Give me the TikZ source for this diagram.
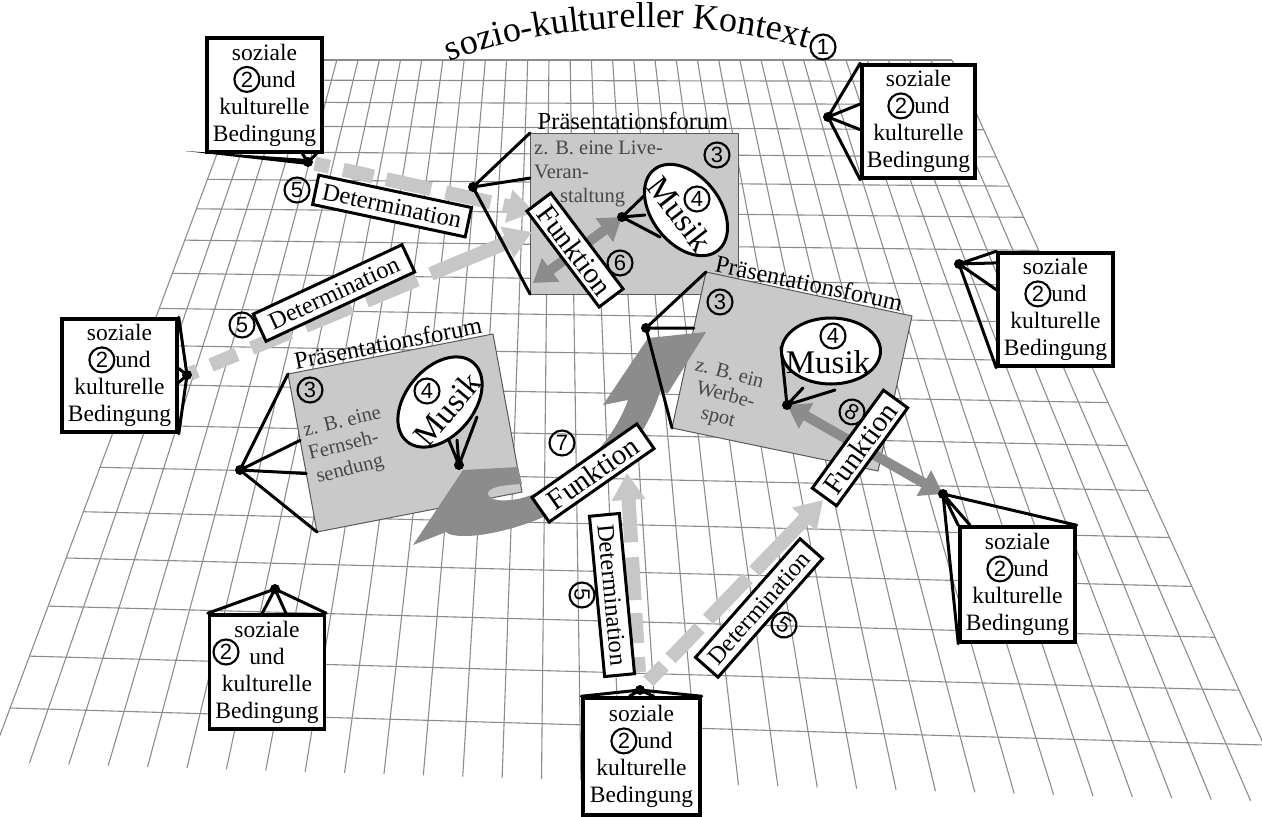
\documentclass[tikz,border=0pt]{standalone}
\usepackage{fontspec}
\setmainfont{Liberation Serif}
\setsansfont{Liberation Sans}
\usetikzlibrary{shapes.geometric,arrows.meta,decorations.text,calc}
\definecolor{gridc}{gray}{0.55}
\definecolor{forumc}{gray}{0.79}
\definecolor{forumedge}{gray}{0.35}
\definecolor{darkarr}{gray}{0.55}
\definecolor{lightarr}{gray}{0.78}
\definecolor{ftext}{gray}{0.28}
\newcommand\fsz[2]{\fontsize{#1}{#2}\selectfont}
\newcommand\cnum[1]{\tikz[baseline=(cnn.base)]\node[circle,draw=black,line width=2.1pt,inner sep=0pt,minimum size=25pt,font=\sffamily\fsz{22}{22}](cnn){#1};}
\newcommand\sozt{soziale\\\cnum{2}und\hspace*{34pt}\\kulturelle\\Bedingung}
\tikzset{
  gridline/.style={draw=gridc,line width=1.1pt},
  sozbox/.style={draw,line width=3.5pt,fill=white,minimum width=115pt,minimum height=114pt,inner sep=0pt,align=center,font=\fsz{23.5}{27}},
  tent/.style={line width=3pt,line cap=round},
  forumshape/.style={fill=forumc,draw=forumedge,line width=1pt},
  ftitle/.style={font=\fsz{24.5}{24.5},inner sep=0pt},
  fbody/.style={font=\fsz{20.5}{20.5},text=ftext,inner sep=0pt,anchor=base west},
  musik/.style={ellipse,draw,line width=3pt,fill=white,minimum width=103pt,minimum height=68pt,inner sep=0pt},
  mtext/.style={font=\fsz{33}{33},inner sep=0pt},
  lblbox/.style={draw,line width=3pt,fill=white,inner sep=0pt,minimum height=30pt},
  funkt/.style={lblbox,minimum width=120pt,font=\fsz{29}{29}},
  determ/.style={lblbox,minimum width=158pt,font=\fsz{24.5}{24.5}},
  cn/.style={circle,draw,line width=2.1pt,inner sep=0pt,minimum size=25pt,font=\sffamily\fsz{22}{22}},
  darrow/.style={draw=darkarr,line width=10pt,{Triangle[width=28pt,length=22pt]}-{Triangle[width=28pt,length=22pt]}},
  larrow/.style={draw=lightarr,line width=14pt,-{Triangle[width=32pt,length=27pt]}},
}
\begin{document}
\begin{tikzpicture}[x=1pt,y=-1pt]
\useasboundingbox (0,0) rectangle (1262,817);
% ---------------- grid
\begin{scope}
\clip (0,0) rectangle (1262,817);
\foreach \gi in {0,...,18}{
  \pgfmathsetmacro\gvv{\gi/18}
  \pgfmathsetmacro\gss{0.5334*\gvv+0.4666*\gvv*\gvv}
  \draw[gridline] ({252-242*\gss},{60+648*\gss}) -- ({952+312*\gss},{60+685*\gss});
}
\foreach \gj in {0,...,33}{
  \pgfmathsetmacro\guu{\gj/33}
  \draw[gridline] ({252+700*\guu},60) -- ({-10+1300*\guu},{762+40*\guu});
}
\end{scope}
% ---------------- coordinates
\coordinate (p1a) at (530,133); \coordinate (p1b) at (738,133);
\coordinate (p1c) at (738,294); \coordinate (p1d) at (530,294);
\coordinate (p2a) at (706,272); \coordinate (p2b) at (912,316);
\coordinate (p2c) at (878,471); \coordinate (p2d) at (672,428);
\coordinate (p3a) at (288,374); \coordinate (p3b) at (493,334);
\coordinate (p3c) at (522,492); \coordinate (p3d) at (317,532);
\coordinate (fd1) at (473,187); \coordinate (fd2) at (646,328); \coordinate (fd3) at (240,470);
\coordinate (md1) at (622,217); \coordinate (md2) at (787,405); \coordinate (md3) at (459,465);
\coordinate (da) at (308,162); \coordinate (db) at (828,117); \coordinate (dc) at (959,264);
\coordinate (dd) at (943,494); \coordinate (de) at (275,589); \coordinate (df) at (640,690);
\coordinate (dg) at (187,375);
% ---------------- forum 1
\draw[forumshape] (p1a) -- (p1b) -- (p1c) -- (p1d) -- cycle;
\node[ftitle] (ft1) at (633,121) {Präsentationsforum};
\node[fbody] (fb1a) at (534,154) {z. B. eine Live-};
\node[fbody] (fb1b) at (534,178) {Veran-};
\node[fbody] (fb1c) at (560,202) {staltung};
\node[cn] (c3a) at (717,155) {3};
\coordinate (t1a) at (650,190); \coordinate (t1b) at (645,215); \coordinate (t1c) at (660,237);
\draw[tent] (md1) -- (t1a) (md1) -- (t1b) (md1) -- (t1c);
\node[musik,rotate=-52] (m1) at (686,210) {};
\node[mtext,rotate=-52] (mt1) at (680,214) {Musik};
\node[cn] (c4a) at (697,199) {4};
% ---------------- forum 2
\draw[forumshape] (p2a) -- (p2b) -- (p2c) -- (p2d) -- cycle;
\node[ftitle,rotate=-12] (ft2) at (809,283) {Präsentationsforum};
\node[fbody,rotate=-15] (fb2a) at (694,370) {z. B. ein};
\node[fbody,rotate=-15] (fb2b) at (695,393) {Werbe-};
\node[fbody,rotate=-15] (fb2c) at (700,418) {spot};
\node[cn] (c3b) at (720,302) {3};
\coordinate (t2a) at (781,347); \coordinate (t2b) at (803,388); \coordinate (t2c) at (835,390);
\draw[tent] (md2) -- (t2a) (md2) -- (t2b) (md2) -- (t2c);
\node[musik,minimum width=99pt,minimum height=66pt] (m2) at (831,351) {};
\node[mtext] (mt2) at (828,362) {Musik};
\node[cn] (c4b) at (833,336) {4};
% ---------------- forum 3
\draw[forumshape] (p3a) -- (p3b) -- (p3c) -- (p3d) -- cycle;
\node[ftitle,rotate=11] (ft3) at (388,343) {Präsentationsforum};
\node[fbody,rotate=14] (fb3a) at (305,437) {z. B. eine};
\node[fbody,rotate=14] (fb3b) at (310,460) {Fernseh-};
\node[fbody,rotate=14] (fb3c) at (318,483) {sendung};
\node[cn] (c3c) at (310,390) {3};
\coordinate (t3a) at (448,438); \coordinate (t3b) at (457,440); \coordinate (t3c) at (477,417);
\draw[tent] (md3) -- (t3a) (md3) -- (t3b) (md3) -- (t3c);
\node[musik,rotate=50] (m3) at (440,402) {};
\node[mtext,rotate=50] (mt3) at (447,409) {Musik};
\node[cn] (c4c) at (427,391) {4};
% ---------------- big curved arrow (7)
\fill[darkarr] (413,545) -- (463,470) -- (518,467) -- (522,484)
  .. controls (500,485) and (487,488) .. (488,494)
  .. controls (489,500) and (500,502) .. (518,499)
  .. controls (565,488) and (610,450) .. (628,400) -- (603,405) -- (648,338) -- (706,332)
  -- (668,393) -- (660,392)
  .. controls (640,455) and (580,520) .. (480,535)
  .. controls (462,537) and (450,536) .. (446,532) -- cycle;
% ---------------- dark double arrows
\coordinate (a6) at (533,283);
\draw[darrow] (a6) -- (md1);
\draw[darrow] (md2) -- (dd);
% ---------------- light determination arrows
\coordinate (d1e) at (535,212); \coordinate (d2e) at (532,232);
\coordinate (d3e) at (627,473); \coordinate (d4e) at (823,500);
\draw[larrow,dash pattern=on 0pt off 7pt on 15pt off 14pt on 31pt off 13pt on 46pt off 15pt on 46pt off 13pt on 400pt] (da) -- (d1e);
\draw[larrow,dash pattern=on 0pt off 4pt on 7pt off 15pt on 28pt off 16pt on 42pt off 16pt on 50pt off 16pt on 55pt off 15pt on 500pt] (dg) -- (d2e);
\draw[larrow,dash pattern=on 0pt off 18pt on 15pt off 14pt on 30pt off 13pt on 43pt off 15pt on 400pt] (df) -- (d3e);
\draw[larrow,dash pattern=on 0pt off 12pt on 22pt off 10pt on 42pt off 12pt on 57pt off 10pt on 400pt] (df) -- (d4e);
% ---------------- forum tents
\draw[tent] (fd1) -- (p1a) (fd1) -- ($(p1a)!0.28!(p1d)$) (fd1) -- (p1d);
\draw[tent] (fd2) -- (p2a) (fd2) -- ($(p2a)!0.36!(p2d)$) (fd2) -- (p2d);
\draw[tent] (fd3) -- (p3a) (fd3) -- ($(p3a)!0.42!(p3d)$) (fd3) -- ($(p3a)!0.63!(p3d)$) (fd3) -- (p3d);
\foreach \dn in {fd1,fd2,fd3,md1,md2,md3}{\fill (\dn) circle (5);}
% ---------------- label boxes
\node[funkt,rotate=-53] (fk1) at (575,250) {Funktion};
\node[funkt,rotate=35,minimum width=128pt] (fk7) at (593,473) {Funktion};
\node[funkt,rotate=54,minimum width=121pt] (fk8) at (860,448) {Funktion};
\node[determ,rotate=-12,minimum width=156pt] (de1) at (392,206) {Determination};
\node[determ,rotate=25,minimum width=164pt] (de2) at (334,293) {Determination};
\node[determ,rotate=-84.6,minimum width=161pt] (de3) at (612,595) {Determination};
\node[determ,rotate=48.6,minimum width=158pt] (de4) at (759,608) {Determination};
\node[cn] (c5a) at (297,190) {5};
\node[cn] (c5b) at (242,325) {5};
\node[cn,rotate=-90] (c5c) at (582,595) {5};
\node[cn,rotate=-35] (c5d) at (784,625) {5};
\node[cn] (c6) at (620,263) {6};
\node[cn] (c7) at (562,443) {7};
\node[cn,rotate=-30] (c8) at (852,412) {8};
% ---------------- social boxes
\node[sozbox] (sa) at (264.5,95) {\sozt};
\node[sozbox,minimum width=113pt,minimum height=113pt] (sb) at (918.5,121.5) {\sozt};
\node[sozbox,minimum height=113pt] (sc) at (1055.5,309.5) {\sozt};
\node[sozbox,minimum height=115pt] (sd) at (1017.5,584.5) {\sozt};
\node[sozbox] (se) at (267,672) {soziale\\und\\kulturelle\\Bedingung};
\node[sozbox,minimum width=117pt,minimum height=117pt] (sf) at (641.5,756.5) {\sozt};
\node[sozbox,minimum height=113pt] (sg) at (119.5,375.5) {\sozt};
\node[cn] (c2e) at (226,652) {2};
% tents of social boxes
\coordinate (aw) at (185,151);
\fill (aw) -- ($(da)+(0,-3)$) -- ($(da)+(0,3)$) -- cycle;
\draw[tent] (da) -- ($(sa.south west)!0.82!(sa.south east)$) (da) -- ($(sa.south west)!0.94!(sa.south east)$);
\draw[tent] (db) -- (sb.north west) (db) -- ($(sb.north west)!0.35!(sb.south west)$) (db) -- ($(sb.north west)!0.57!(sb.south west)$) (db) -- (sb.south west);
\draw[tent] (dc) -- (sc.north west) (dc) -- ($(sc.north west)!0.1!(sc.south west)$) (dc) -- ($(sc.north west)!0.33!(sc.south west)$) (dc) -- (sc.south west);
\draw[tent] (dd) -- (sd.north east) (dd) -- ($(sd.north west)!0.1!(sd.north east)$) (dd) -- (sd.north west) (dd) -- (sd.south west);
\draw[tent] (de) -- (se.north west) (de) -- ($(se.north west)!0.46!(se.north east)$) (de) -- ($(se.north west)!0.66!(se.north east)$) (de) -- (se.north east);
\draw[tent] (df) -- (sf.north west) (df) -- ($(sf.north west)!0.4!(sf.north east)$) (df) -- ($(sf.north west)!0.6!(sf.north east)$) (df) -- (sf.north east);
\draw[tent] (dg) -- (sg.north east) (dg) -- ($(sg.north east)!0.44!(sg.south east)$) (dg) -- ($(sg.north east)!0.56!(sg.south east)$) (dg) -- (sg.south east);
\foreach \dn in {da,db,dc,dd,de,df,dg}{\fill (\dn) circle (5);}
% ---------------- title
\path[decorate,decoration={text along path,text align=left,text={|\fsz{36}{36}|sozio-kultureller Kontext}}] (450,62) .. controls (545,22) and (705,14) .. (818,52);
\node[cn] (c1) at (823,47) {1};
\end{tikzpicture}
\end{document}
